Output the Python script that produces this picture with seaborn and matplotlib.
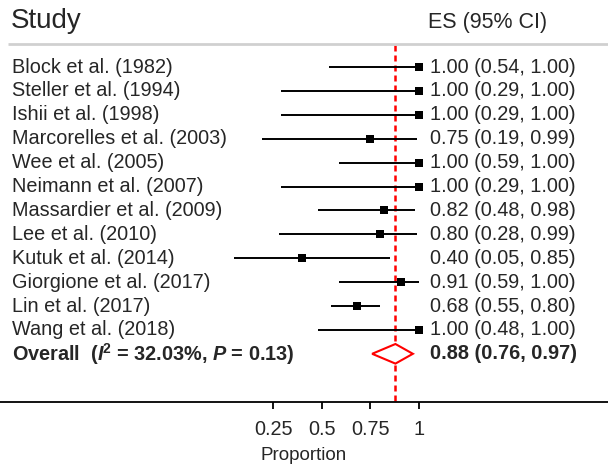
import numpy as np
import pandas as pd
import matplotlib
matplotlib.use("Agg")
import matplotlib.pyplot as plt
import matplotlib.transforms as mtransforms
import seaborn as sns

studies = ["Block et al. (1982)", "Steller et al. (1994)", "Ishii et al. (1998)",
           "Marcorelles et al. (2003)", "Wee et al. (2005)", "Neimann et al. (2007)",
           "Massardier et al. (2009)", "Lee et al. (2010)", "Kutuk et al. (2014)",
           "Giorgione et al. (2017)", "Lin et al. (2017)", "Wang et al. (2018)"]
es = [1.00, 1.00, 1.00, 0.75, 1.00, 1.00, 0.82, 0.80, 0.40, 0.91, 0.68, 1.00]
lo = [0.54, 0.29, 0.29, 0.19, 0.59, 0.29, 0.48, 0.28, 0.05, 0.59, 0.55, 0.48]
hi = [1.00, 1.00, 1.00, 0.99, 1.00, 1.00, 0.98, 0.99, 0.85, 1.00, 0.80, 1.00]
overall_es, overall_lo, overall_hi = 0.88, 0.76, 0.97
overall_label = r"Overall  ($\mathbfit{I}^{\mathbf{2}}$ = 32.03%, $\mathbfit{P}$ = 0.13)"
xticks = [0.25, 0.5, 0.75, 1]
xtick_labels = ["0.25", "0.5", "0.75", "1"]

sns.set_style("white")
plt.rcParams["font.family"] = ["Liberation Sans", "DejaVu Sans"]
plt.rcParams["mathtext.fontset"] = "custom"
plt.rcParams["mathtext.rm"] = "Liberation Sans"
plt.rcParams["mathtext.it"] = "Liberation Sans:italic"
plt.rcParams["mathtext.bf"] = "Liberation Sans:bold"
try:
    plt.rcParams["mathtext.bfit"] = "Liberation Sans:bold:italic"
except KeyError:
    pass

df = pd.DataFrame({"study": studies, "es": es, "lo": lo, "hi": hi})
df["row"] = np.arange(len(df))
n = len(df)

W, H = 608, 466
fig = plt.figure(figsize=(W / 100, H / 100), dpi=100)
axis_px = 402
ax = fig.add_axes([0, (H - axis_px) / H, 1, axis_px / H])

# pixel mapping
x0px, scale = 224.7, 194.0
ax.set_xlim((0 - x0px) / scale, (W - x0px) / scale)
row0, rowstep = 67.0, 23.9
ax.set_ylim((axis_px - row0) / rowstep, (0 - row0) / rowstep)

# CI lines
ax.hlines(df["row"], df["lo"], df["hi"], color="black", lw=1.4, zorder=2)
sns.scatterplot(data=df, x="es", y="row", marker="s", color="black", s=26,
                edgecolor="black", linewidth=0, ax=ax, zorder=3, legend=False)

# overall diamond
yo = n
dh = 0.41
ax.fill([overall_lo, overall_es, overall_hi, overall_es, overall_lo],
        [yo, yo - dh, yo, yo + dh, yo], facecolor="white", edgecolor="red",
        lw=1.5, zorder=3)

# reference line
ax.vlines(overall_es, (45 - row0) / rowstep, (axis_px - row0) / rowstep,
          color="red", lw=1.8, linestyles=(0, (2.4, 1.6)), zorder=1)

trans = mtransforms.blended_transform_factory(ax.transAxes, ax.transData)

# header line
ax.plot([8 / W, 1], [(43.5 - row0) / rowstep] * 2, color="#d0d0d0", lw=2,
        transform=trans, solid_capstyle="butt")

fs = 14.3
for i, r in df.iterrows():
    ax.text(12 / W, r["row"], r["study"], transform=trans, va="center", ha="left", fontsize=fs)
    ax.text(430 / W, r["row"], f"{r['es']:.2f} ({r['lo']:.2f}, {r['hi']:.2f})",
            transform=trans, va="center", ha="left", fontsize=fs)
ax.text(12 / W, yo, overall_label, transform=trans, va="center", ha="left",
        fontsize=fs, fontweight="bold")
ax.text(430 / W, yo, f"{overall_es:.2f} ({overall_lo:.2f}, {overall_hi:.2f})",
        transform=trans, va="center", ha="left", fontsize=fs, fontweight="bold")

ax.text(11 / W, (21 - row0) / rowstep, "Study", transform=trans, va="center",
        ha="left", fontsize=20)
ax.text(428 / W, (22 - row0) / rowstep, "ES (95% CI)", transform=trans, va="center",
        ha="left", fontsize=15.5)

# axis styling
for s in ["top", "left", "right"]:
    ax.spines[s].set_visible(False)
ax.spines["bottom"].set_color("black")
ax.spines["bottom"].set_linewidth(1.3)
ax.set_yticks([])
ax.set_xticks(xticks)
ax.set_xticklabels(xtick_labels, fontsize=fs)
ax.tick_params(axis="x", direction="out", length=5, width=1.3, color="black", pad=8, bottom=True)
ax.set_xlabel("Proportion", fontsize=13.5, labelpad=6)
ax.set_ylabel("")

fig.savefig("out.png", dpi=100)
